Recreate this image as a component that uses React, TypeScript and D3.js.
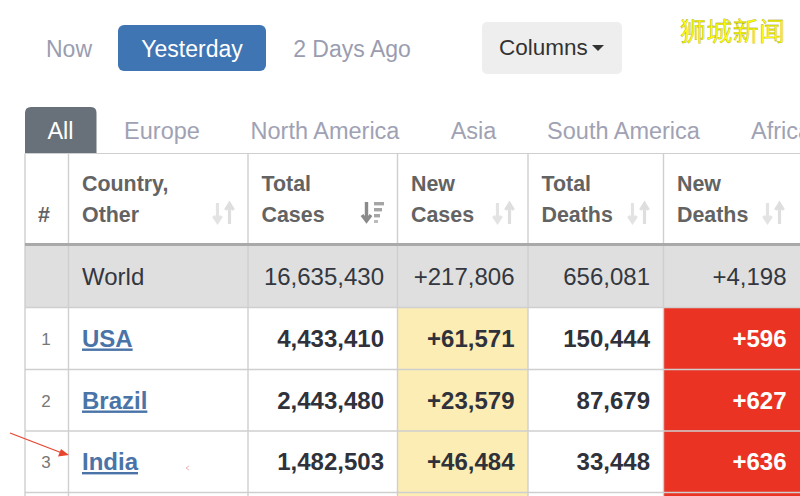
import React from "react";
import * as d3 from "d3";

const periodTabs = ["Now", "Yesterday", "2 Days Ago"];
const regionTabs = ["All", "Europe", "North America", "Asia", "South America", "Africa"];
const headers = [["#"], ["Country,", "Other"], ["Total", "Cases"], ["New", "Cases"], ["Total", "Deaths"], ["New", "Deaths"]];
const world = ["", "World", "16,635,430", "+217,806", "656,081", "+4,198"];
const ranks = ["1", "2", "3"];
const countries = ["USA", "Brazil", "India"];
const totalCases = ["4,433,410", "2,443,480", "1,482,503"];
const newCases = ["+61,571", "+23,579", "+46,484"];
const totalDeaths = ["150,444", "87,679", "33,448"];
const newDeaths = ["+596", "+627", "+636"];

const FONT = "'Liberation Sans', Arial, sans-serif";
const LINE = "#cfcfcf";
const xEdge = d3.scaleOrdinal<number, number>().domain([0, 1, 2, 3, 4, 5, 6]).range([25, 68.5, 248, 397.5, 528, 663.5, 800]);
const yEdge = d3.scaleOrdinal<number, number>().domain([0, 1, 2, 3, 4]).range([307.5, 369.5, 431, 492.5, 560]);

function Arrows({ x, y, active }: { x: number; y: number; active?: boolean }) {
  if (active) {
    return (
      <g transform={`translate(${x},${y})`}>
        <path d="M4.5 0V17M0 13L4.5 19L9 13" fill="none" stroke="#8a8a8a" strokeWidth={3.4} />
        <rect x={12} y={0} width={10} height={3.4} fill="#a5a5a5" />
        <rect x={12} y={6} width={8} height={3.4} fill="#a5a5a5" />
        <rect x={12} y={12} width={6} height={3.4} fill="#a5a5a5" />
        <rect x={12} y={18} width={4} height={3} fill="#bbb" />
      </g>
    );
  }
  return (
    <g transform={`translate(${x},${y})`} fill="none" strokeWidth={3.2}>
      <path d="M4.5 1V19M0.5 14L4.5 20L8.5 14" stroke="#e3e3e3" />
      <path d="M16.5 22V3M12.5 8L16.5 1.5L20.5 8" stroke="#dedede" />
    </g>
  );
}

export default function App() {
  const rows = d3.range(countries.length);
  const nCols = 6;
  return (
    <svg width={800} height={496} viewBox="0 0 800 496" style={{ position: "absolute", left: 0, top: 0, background: "#fff" }} fontFamily={FONT}>
      <rect x={118} y={25} width={148} height={46} rx={6} fill="#3f75b3" />
      <text x={69} y={56.5} fontSize={23} fill="#9a9db0" textAnchor="middle">{periodTabs[0]}</text>
      <text x={192} y={56.5} fontSize={23} fill="#fff" textAnchor="middle">{periodTabs[1]}</text>
      <text x={352} y={56.5} fontSize={23} fill="#9a9db0" textAnchor="middle">{periodTabs[2]}</text>

      <rect x={482} y={22} width={140} height={52} rx={5} fill="#eeeeee" />
      <text x={499} y={55} fontSize={22.5} fill="#333">Columns</text>
      <path d="M592 45H604L598 51Z" fill="#333" />

      <text x={680} y={41} fontSize={26} fontFamily="'Noto Sans CJK SC'" fill="#ffff00" stroke="#8a8a20" strokeWidth={0.3} textLength={105}>狮城新闻</text>

      <path d="M25 154V113Q25 107 31 107H91Q96.500 107 96.500 113V154Z" fill="#687079" />
      {regionTabs.map((t, i) => (
        <text key={t} x={[60.5, 162, 325, 473.5, 623.5, 751][i]} y={138.500} fontSize={23.500} fill={i === 0 ? "#fff" : "#a0a2b4"} textAnchor={i === 5 ? "start" : "middle"}>{t}</text>
      ))}

      <rect x={25} y={246} width={775} height={61.5} fill="#dfdfdf" />
      {rows.map((r) => (
        <g key={r}>
          <rect x={xEdge(3)} y={yEdge(r)} width={xEdge(4) - xEdge(3)} height={yEdge(r + 1) - yEdge(r)} fill="#fcedb4" />
          <rect x={xEdge(5)} y={yEdge(r)} width={xEdge(6) - xEdge(5)} height={yEdge(r + 1) - yEdge(r)} fill="#ea3323" />
        </g>
      ))}
      <rect x={xEdge(3)} y={493} width={xEdge(4) - xEdge(3)} height={3} fill="#fcedb4" />
      <rect x={xEdge(5)} y={493} width={xEdge(6) - xEdge(5)} height={3} fill="#ea3323" />

      {d3.range(nCols).map((c) => (
        <line key={c} x1={xEdge(c)} x2={xEdge(c)} y1={153.5} y2={496} stroke={LINE} strokeWidth={1.4} />
      ))}
      <line x1={25} x2={800} y1={153.500} y2={153.500} stroke={LINE} strokeWidth={1.2} />
      <rect x={25} y={243} width={775} height={3} fill="#a9a9a9" />
      {[0, 1, 2, 3].map((r) => (
        <line key={r} x1={25} x2={800} y1={yEdge(r)} y2={yEdge(r)} stroke={LINE} strokeWidth={1.3} />
      ))}

      {headers.map((h, c) =>
        h.map((line, i) => (
          <text key={c + line} x={c === 0 ? 44 : xEdge(c) + 13.500} y={c === 0 ? 222 : 190.5 + i * 31} fontSize={21.4} fontWeight={700} fill="#636363" textAnchor={c === 0 ? "middle" : "start"}>{line}</text>
        ))
      )}
      <Arrows x={213} y={202} />
      <Arrows x={362} y={202} active />
      <Arrows x={493} y={202} />
      <Arrows x={628} y={202} />
      <Arrows x={763} y={202} />

      <text x={82} y={285} fontSize={24} fill="#333740">{world[1]}</text>
      {[2, 3, 4, 5].map((c) => (
        <text key={c} x={xEdge(c + 1) - 13.5} y={285} fontSize={24} fill="#333740" textAnchor="end">{world[c]}</text>
      ))}

      {rows.map((r) => {
        const y = yEdge(r) + 39;
        const right = (c: number) => xEdge(c + 1) - 13.5;
        const common = { y, fontSize: 24, fontWeight: 700, textAnchor: "end" as const };
        return (
          <g key={r}>
            <text x={46} y={y - 2} fontSize={17} fill="#777" textAnchor="middle">{ranks[r]}</text>
            <text x={82} y={y} fontSize={24} fontWeight={700} fill="#4a74a8" textDecoration="underline">{countries[r]}</text>
            <text x={right(2)} {...common} fill="#2f323b">{totalCases[r]}</text>
            <text x={right(3)} {...common} fill="#2f323b">{newCases[r]}</text>
            <text x={right(4)} {...common} fill="#2f323b">{totalDeaths[r]}</text>
            <text x={right(5)} {...common} fill="#fff">{newDeaths[r]}</text>
          </g>
        );
      })}

      <line x1={10} y1={433} x2={62} y2={453} stroke="#e8452f" strokeWidth={1.3} />
      <path d="M69 455L58 456.500L61 449Z" fill="#e8452f" />
      <path d="M189 466L186 468L189 470" fill="none" stroke="#e6b5b5" strokeWidth={1} />
    </svg>
  );
}
